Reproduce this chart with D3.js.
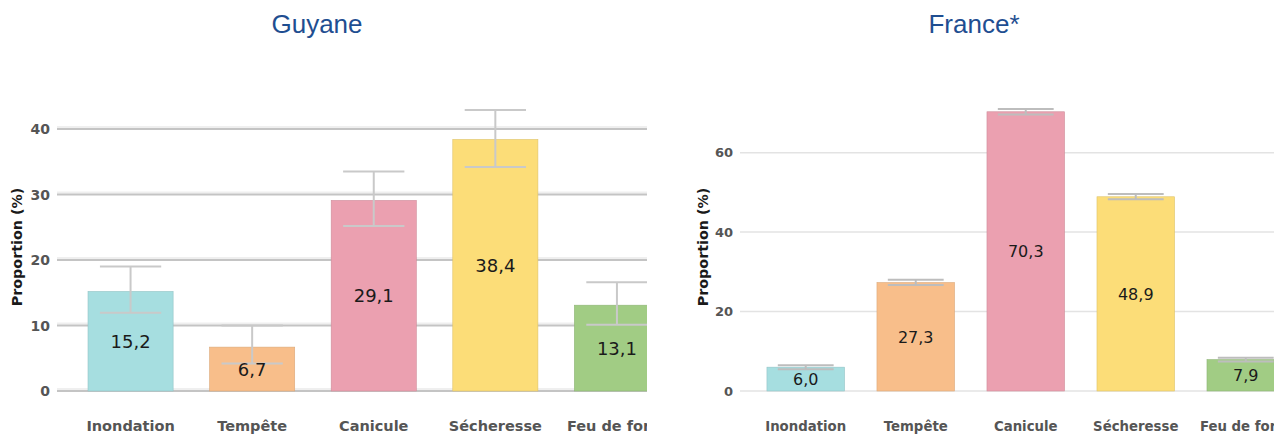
<!DOCTYPE html>
<html><head><meta charset="utf-8">
<script src="https://cdn.jsdelivr.net/npm/d3@7"></script>
<style>
html,body{margin:0;padding:0;background:#fff;}
svg{display:block;}
</style></head>
<body>
<svg id="chart" width="1283" height="434"></svg>
<script>
const categories = ["Inondation", "Tempête", "Canicule", "Sécheresse", "Feu de forêt"];
const colors = ["#a6dee0", "#f8be8a", "#eba0b0", "#fcdd78", "#a1cc84"];
const guyaneValues = [15.2, 6.7, 29.1, 38.4, 13.1];
const guyaneLow = [11.95, 4.2, 25.2, 34.2, 10.1];
const guyaneHigh = [19.0, 10.0, 33.5, 42.9, 16.6];
const franceValues = [6.0, 27.3, 70.3, 48.9, 7.9];
const franceLow = [5.5, 26.7, 69.6, 48.3, 7.4];
const franceHigh = [6.5, 28.0, 71.0, 49.6, 8.4];
const guyaneTicks = [0, 10, 20, 30, 40];
const franceTicks = [0, 20, 40, 60];
const titles = ["Guyane", "France*"];
const yTitle = "Proportion (%)";

const fr = d3.formatLocale({decimal: ",", thousands: " ", grouping: [3], currency: ["", "€"]});
const fmt = fr.format(".1f");
const svg = d3.select("#chart");

function panel(cfg) {
  const g = svg.append("g");
  const clipId = "clip" + cfg.id;
  svg.append("defs").append("clipPath").attr("id", clipId)
    .append("rect").attr("x", 0).attr("y", 0).attr("width", cfg.clipRight).attr("height", 434);
  const body = g.append("g").attr("clip-path", `url(#${clipId})`);

  const x = d3.scaleBand().domain(categories)
    .range(cfg.xRange).paddingInner(cfg.pi).paddingOuter(cfg.po);
  const y = d3.scaleLinear().domain(cfg.yDomain).range(cfg.yRange);

  // grid
  cfg.ticks.forEach(t => {
    if (cfg.doubleGrid) {
      body.append("line").attr("x1", cfg.gridLeft).attr("x2", cfg.clipRight)
        .attr("y1", y(t) - 2).attr("y2", y(t) - 2)
        .attr("stroke", "#efefef").attr("stroke-width", 2);
    }
    body.append("line").attr("x1", cfg.gridLeft).attr("x2", cfg.clipRight)
      .attr("y1", y(t)).attr("y2", y(t))
      .attr("stroke", cfg.gridColor).attr("stroke-width", cfg.gridWidth);
  });

  // bars
  const data = categories.map((c, i) => ({c, v: cfg.values[i], lo: cfg.low[i], hi: cfg.high[i], col: colors[i]}));
  body.selectAll("rect.bar").data(data).enter().append("rect")
    .attr("class", "bar")
    .attr("x", d => x(d.c)).attr("width", x.bandwidth())
    .attr("y", d => y(d.v)).attr("height", d => y(0) - y(d.v))
    .attr("fill", d => d.col)
    .attr("stroke", d => d3.color(d.col).darker(0.35))
    .attr("stroke-width", 0.6);

  // error bars
  const capW = x.bandwidth() * 0.72;
  const eb = body.selectAll("g.eb").data(data).enter().append("g")
    .attr("stroke", cfg.errColor).attr("stroke-width", 2);
  eb.append("line").attr("x1", d => x(d.c) + x.bandwidth()/2).attr("x2", d => x(d.c) + x.bandwidth()/2)
    .attr("y1", d => y(d.lo)).attr("y2", d => y(d.hi));
  eb.append("line").attr("x1", d => x(d.c) + x.bandwidth()/2 - capW/2).attr("x2", d => x(d.c) + x.bandwidth()/2 + capW/2)
    .attr("y1", d => y(d.lo)).attr("y2", d => y(d.lo));
  eb.append("line").attr("x1", d => x(d.c) + x.bandwidth()/2 - capW/2).attr("x2", d => x(d.c) + x.bandwidth()/2 + capW/2)
    .attr("y1", d => y(d.hi)).attr("y2", d => y(d.hi));

  // value labels
  body.selectAll("text.val").data(data).enter().append("text")
    .attr("x", d => x(d.c) + x.bandwidth()/2)
    .attr("y", d => (y(d.v) + y(0)) / 2)
    .attr("dy", "0.36em")
    .attr("text-anchor", "middle")
    .attr("font-family", "DejaVu Sans")
    .attr("font-size", cfg.valSize)
    .attr("fill", "#1a1a1a")
    .text(d => fmt(d.v));

  // category labels
  body.selectAll("text.cat").data(data).enter().append("text")
    .attr("x", d => x(d.c) + x.bandwidth()/2)
    .attr("y", 430.5)
    .attr("text-anchor", "middle")
    .attr("font-family", "DejaVu Sans")
    .attr("font-weight", "bold")
    .attr("font-size", cfg.catSize)
    .attr("fill", "#555")
    .text(d => d.c);

  // y tick labels
  g.selectAll("text.tick").data(cfg.ticks).enter().append("text")
    .attr("x", cfg.tickRight).attr("y", d => y(d)).attr("dy", "0.36em")
    .attr("text-anchor", "end")
    .attr("font-family", "DejaVu Sans").attr("font-weight", "bold")
    .attr("font-size", cfg.tickSize).attr("fill", "#555")
    .text(d => d);

  // y title
  g.append("text")
    .attr("transform", `translate(${cfg.yTitleX},247) rotate(-90)`)
    .attr("text-anchor", "middle").attr("dy", "0.36em")
    .attr("font-family", "DejaVu Sans").attr("font-weight", "bold")
    .attr("font-size", 14.3).attr("fill", "#1a1a1a")
    .text(yTitle);

  // title
  g.append("text")
    .attr("x", cfg.titleX).attr("y", 33)
    .attr("text-anchor", "middle")
    .attr("font-family", "Liberation Sans, Arial, sans-serif")
    .attr("font-size", 26).attr("fill", "#1f4e91")
    .text(cfg.title);
}

panel({
  id: "L", title: titles[0], titleX: 317,
  values: guyaneValues, low: guyaneLow, high: guyaneHigh, ticks: guyaneTicks,
  xRange: [57, 690.5], pi: 0.30, po: 0.255,
  yDomain: [0, 45], yRange: [391, 96.25],
  gridLeft: 57, clipRight: 647, gridColor: "#c4c4c4", gridWidth: 2, doubleGrid: true,
  errColor: "#c9c9c9", valSize: 18, catSize: 14.5, tickSize: 14, tickRight: 50, yTitleX: 17
});

panel({
  id: "R", title: titles[1], titleX: 974,
  values: franceValues, low: franceLow, high: franceHigh, ticks: franceTicks,
  xRange: [740, 1311.5], pi: 0.295, po: 0.245,
  yDomain: [0, 75], yRange: [391, 93.1],
  gridLeft: 740, clipRight: 1274, gridColor: "#e3e3e3", gridWidth: 1.5, doubleGrid: false,
  errColor: "#bdbdbd", valSize: 16, catSize: 13.3, tickSize: 13, tickRight: 733, yTitleX: 703
});
</script>
</body></html>
